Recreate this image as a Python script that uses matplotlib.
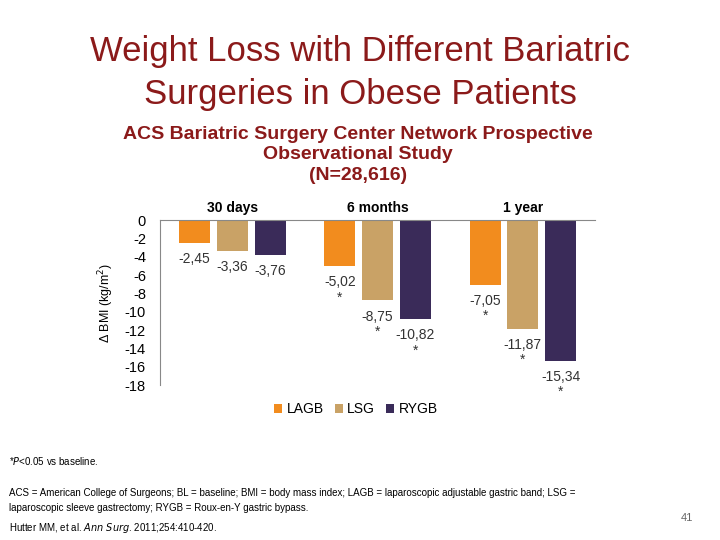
import numpy as np
import matplotlib.pyplot as plt

plt.rcParams['font.family'] = ['Liberation Sans', 'DejaVu Sans']

groups = ['30 days', '6 months', '1 year']
series = ['LAGB', 'LSG', 'RYGB']
values = {
    'LAGB': [-2.45, -5.02, -7.05],
    'LSG': [-3.36, -8.75, -11.87],
    'RYGB': [-3.76, -10.82, -15.34],
}
signif = {
    'LAGB': ['', '*', '*'],
    'LSG': ['', '*', '*'],
    'RYGB': ['', '*', '*'],
}
colors = {'LAGB': '#F28C1E', 'LSG': '#C9A266', 'RYGB': '#3A2B59'}
red = '#8B1A1A'

fig = plt.figure(figsize=(7.2, 5.4), dpi=100)
fig.text(0.5, 0.905, 'Weight Loss with Different Bariatric', ha='center', va='center',
         fontsize=25, color=red)
fig.text(0.5, 0.825, 'Surgeries in Obese Patients', ha='center', va='center',
         fontsize=25, color=red)
fig.text(0.497, 0.713, 'ACS Bariatric Surgery Center Network Prospective\nObservational Study\n(N=28,616)',
         ha='center', va='center', fontsize=14, color=red, fontweight='bold', linespacing=1.3)

ax = fig.add_axes([0.222, 0.287, 0.605, 0.305])
index = np.arange(len(groups))
bar_width = 0.26
for i, s in enumerate(series):
    x = index + (i - 1) * bar_width
    ax.bar(x, values[s], bar_width * 0.82, color=colors[s], label=s)
    for xi, v, st in zip(x, values[s], signif[s]):
        txt = ('%.2f' % v).replace('.', ',')
        if st:
            txt += '\n' + st
        ax.text(xi, v - 1.0, txt, ha='center', va='top', fontsize=10, color='#333333',
                linespacing=1.1)
ax.set_ylim(-18, 0)
ax.set_xlim(-0.5, 2.5)
ax.set_yticks(np.arange(0, -19, -2))
ax.set_yticklabels([str(t) for t in range(0, -19, -2)], fontsize=10.5)
ax.set_xticks([])
for sp in ['right', 'bottom']:
    ax.spines[sp].set_visible(False)
ax.spines['top'].set_color('#888888')
ax.spines['left'].set_color('#888888')
ax.tick_params(axis='y', length=0, pad=10)
for k, g in enumerate(groups):
    ax.text(index[k], 0.6, g, ha='center', va='bottom', fontsize=10, fontweight='bold')
ax.set_ylabel('Δ BMI (kg/m$^2$)', fontsize=9, labelpad=6)
ax.legend(loc='upper center', bbox_to_anchor=(0.45, -0.03), ncol=3, frameon=False,
          fontsize=10, handlelength=0.6, handleheight=0.6, columnspacing=0.8, handletextpad=0.3)

fig.text(0.012, 0.138, '*$P$<0.05 vs baseline.', fontsize=7)
fig.text(0.012, 0.073, 'ACS = American College of Surgeons; BL = baseline; BMI = body mass index; LAGB = laparoscopic adjustable gastric band; LSG =\nlaparoscopic sleeve gastrectomy; RYGB = Roux-en-Y gastric bypass.',
         fontsize=7, va='center', linespacing=1.6)
fig.text(0.012, 0.017, 'Hutter MM, et al. $Ann\\ Surg$. 2011;254:410-420.', fontsize=7)
fig.text(0.945, 0.035, '41', fontsize=8, color='#666666')

fig.savefig('out.png')
